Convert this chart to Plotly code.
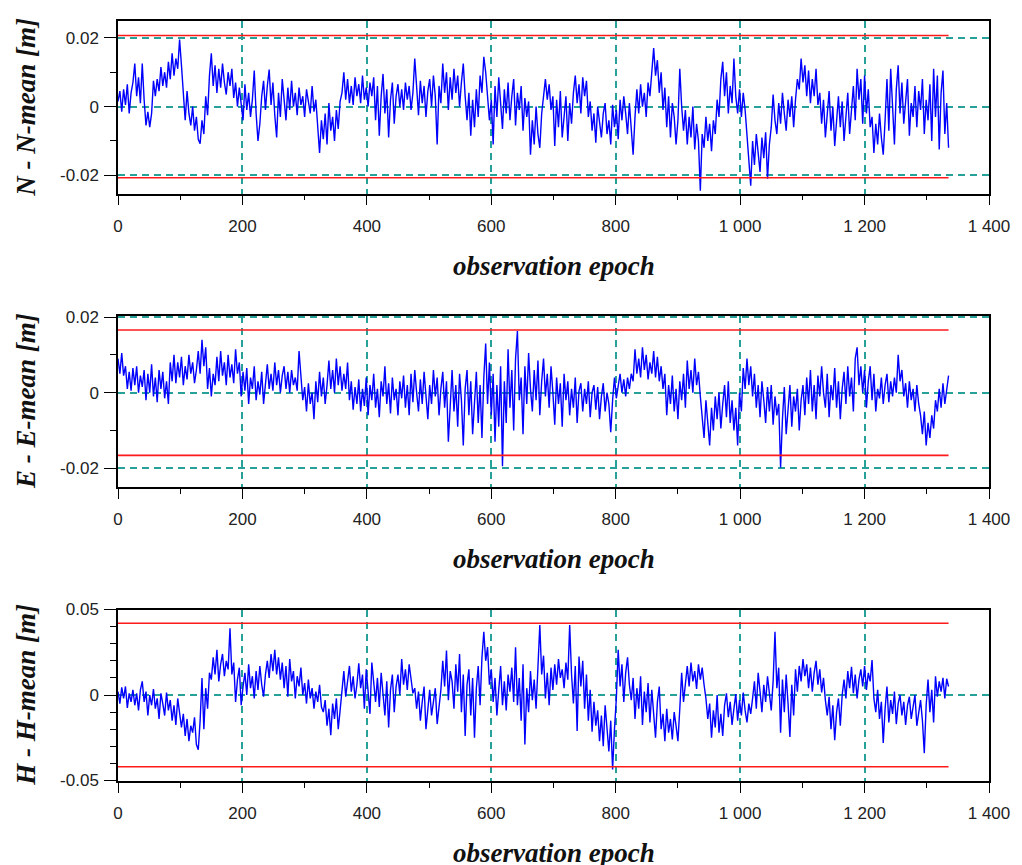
import numpy as np
import plotly.graph_objects as go

# observation epochs (every 3rd epoch of the session)
epoch = np.arange(0, 1336, 3)

# coordinate residuals w.r.t. the session mean, in millimetres
north_mm = [
    1.5, 4.5, -1.5, 5.0, 0.5, 6.5, -2.0, 4.0, 7.0, 12.5,
    3.0, 8.5, 1.0, 12.5, 2.0, -5.5, -1.5, -6.0, -2.0, 7.5,
    3.0, 8.0, 4.5, 11.5, 6.0, 10.0, 5.5, 13.0, 8.0, 15.5,
    9.0, 14.0, 11.0, 19.5, 12.0, 2.0, -4.0, 4.5, -2.0, -5.5,
    0.0, -7.0, -3.0, -9.5, -10.8, -4.0, -8.0, 3.0, -2.5, 9.0,
    15.5, 6.0, 12.0, 4.0, 11.0, 5.5, 12.5, 7.0, 3.5, 10.0,
    6.0, 11.0, 2.5, 7.0, 0.0, 5.5, 1.0, -4.0, 6.5, -1.0,
    4.0, -3.0, 2.0, 10.5, -2.0, -10.0, -5.0, 3.0, 7.5, -1.0,
    6.0, 10.8, 0.5, 7.0, -2.5, -9.0, 4.0, -3.0, 8.0, 1.0,
    -4.0, 5.5, -1.0, 7.5, 0.0, 4.0, -2.5, 5.5, 0.5, 3.0,
    -3.0, 5.0, 1.0, -2.0, 6.0, -1.5, 2.0, -6.0, -13.5, -4.0,
    -9.5, -2.0, -11.0, 1.0, -7.0, -3.0, -10.0, -1.0, -6.5, 1.5,
    4.0, 10.0, 2.0, 8.0, 1.0, 6.0, 0.5, 8.5, 3.0, 6.5,
    1.0, 9.0, 2.0, 5.5, 0.0, 7.0, 3.0, 8.5, -4.0, 6.0,
    -8.5, 3.0, 9.5, -2.0, 5.0, -9.0, 2.0, 7.0, -5.0, 3.0,
    6.5, 0.0, 5.0, -1.0, 7.0, 2.0, 6.0, -1.0, 4.0, 14.0,
    5.0, -2.5, 7.5, 1.0, 6.0, -3.0, 4.5, 8.0, 0.0, 9.0,
    3.0, -11.0, 6.0, 1.0, 12.5, 4.0, 10.0, -1.0, 8.5, 2.0,
    11.0, 4.0, 9.0, 0.0, 7.0, 12.5, 3.0, -4.0, 4.0, -8.5,
    2.0, -6.0, 5.0, -3.0, 9.0, 4.0, 14.5, 10.0, 3.0, -4.0,
    2.0, -11.0, 6.0, -3.0, 8.5, 0.5, -6.5, 5.0, -2.0, 7.0,
    -4.0, 3.0, 8.0, -5.5, 4.0, -1.0, 6.0, -7.0, 2.5, -3.0,
    1.5, -14.0, -4.0, -11.0, 0.0, -8.0, -12.0, -2.0, 4.0, 8.0,
    2.0, 6.5, -1.0, 3.0, -11.5, 2.0, -6.0, 4.5, -9.0, -2.0,
    3.0, -10.0, 1.0, -5.0, 4.0, 9.0, 1.0, 6.5, -2.0, 8.5,
    3.0, 7.5, -3.0, 1.5, -7.0, -2.0, -10.5, 0.0, -5.0, -9.0,
    -2.0, 1.0, -8.0, -4.0, -11.0, 0.5, -6.0, -1.0, -9.5, 2.0,
    -4.0, 3.0, -2.0, -8.0, 1.0, -6.0, -14.0, -3.0, 5.0, -2.0,
    6.5, 0.0, 4.0, -3.0, 7.0, 3.0, 11.0, 17.0, 9.0, 13.5,
    4.0, 10.0, -1.0, 5.5, -6.0, 3.0, -9.0, 1.0, -3.0, -11.0,
    -4.0, 11.0, 0.0, -7.0, -1.0, -11.0, -3.0, -9.0, 0.0, -12.5,
    -5.0, -10.0, -24.5, -8.0, -12.0, -3.0, -10.0, -5.0, -13.0, -4.0,
    -8.0, 2.0, -3.0, 8.0, 13.0, 3.0, 10.0, -2.0, 6.0, 1.0,
    14.0, 3.0, -2.0, 5.0, -3.0, 4.0, -1.0, -9.0, -15.0, -23.0,
    -10.0, -17.0, -8.0, -14.0, -19.0, -9.0, -15.0, -7.5, -21.0, -11.0,
    -6.0, 3.5, -4.0, -8.0, 1.0, -5.0, 4.0, -2.0, -7.0, 2.0,
    -3.0, 3.0, -6.0, 2.0, 8.0, 5.0, 14.0, 7.0, 12.0, 3.0,
    10.5, 1.0, 8.0, 3.0, 11.0, 0.5, 4.0, -5.0, 2.0, -9.0,
    -2.0, 4.5, -7.0, 0.0, -11.5, -3.0, 3.0, -6.0, 1.5, -10.0,
    -2.0, 4.0, -8.0, -1.0, 6.0, -4.0, 11.0, 2.0, 8.0, -5.0,
    9.0, -2.0, 5.0, -6.0, -3.0, -13.5, -5.0, -11.0, -2.0, -9.0,
    -14.0, -4.0, 8.0, -7.0, 11.0, 0.0, -11.0, 5.0, 12.0, -2.0,
    7.0, -5.0, 3.0, 8.0, -8.5, 1.0, -3.0, 6.0, -6.0, 4.5,
    -1.0, 8.0, -8.0, 2.0, -4.0, 6.5, -10.0, 11.0, -3.0, 9.0,
    -12.5, 4.0, 10.5, -8.0, 1.0, -12.0,
]

east_mm = [
    9.0, 5.0, 10.5, 4.5, 7.0, 1.0, 5.5, 0.5, 6.5, 2.0,
    7.0, 0.0, 4.5, 1.5, 6.0, -2.0, 5.0, 0.0, 7.5, -1.0,
    4.0, -2.5, 6.0, 1.0, 5.5, -1.5, 3.0, -3.0, 8.0, 3.0,
    10.0, 2.5, 8.0, 4.0, 9.5, 2.0, 7.0, 3.5, 10.0, 5.0,
    8.0, 2.5, 6.0, 11.0, 5.0, 14.0, 7.0, 12.0, 1.0, 6.5,
    -1.0, 5.0, 2.0, 9.5, 3.0, 11.0, 4.5, 8.0, 2.0, 10.0,
    4.0, 7.5, 2.5, 11.5, 5.0, 8.0, -1.0, 5.5, 0.5, 6.5,
    -3.0, 4.0, 1.0, 7.0, -2.0, 3.0, -0.5, 5.5, -3.0, 2.0,
    7.5, 1.0, 5.0, 0.5, 8.0, 2.0, 6.0, 0.0, 4.5, 7.0,
    1.0, 5.5, 0.0, 6.0, 2.0, 4.0, 0.5, 11.0, 3.0, -2.0,
    1.5, -5.0, 2.5, -3.0, 0.0, -7.0, 3.0, -2.5, 5.5, -1.0,
    4.0, -3.0, 2.0, 8.5, 1.0, 6.0, 0.0, 9.0, 2.0, 7.0,
    0.5, 5.0, 1.0, 8.0, -2.0, 3.0, -4.5, 1.5, -3.0, 3.5,
    -5.0, 1.0, -3.5, 4.0, -6.0, 2.0, -2.0, 5.0, -4.0, 1.0,
    -6.5, 3.0, -1.0, 7.0, -3.0, 2.5, -5.5, 4.0, -2.0, 1.0,
    -6.0, 3.0, -1.5, 4.5, -4.0, 2.0, -6.0, 5.0, -2.5, 6.0,
    0.0, -5.0, 3.5, -3.0, 5.5, -1.0, -7.0, 2.0, -3.0, 6.0,
    -1.0, 4.0, -6.0, 1.0, 5.5, -4.0, 3.0, -13.0, -2.0, 6.0,
    -5.0, 2.0, -9.0, 5.0, -2.0, -14.0, 1.0, 6.0, -6.0, 3.0,
    -11.0, -1.0, 5.5, -8.0, 2.0, -12.0, 4.0, 13.0, -3.0, 8.0,
    -6.0, 5.0, -13.0, 2.0, -9.0, 7.0, -19.5, 3.0, -8.0, 11.5,
    -4.0, 6.0, -10.0, 9.0, 16.3, -2.0, 4.0, -11.0, 7.0, -3.0,
    10.5, 1.0, -5.0, 6.0, -2.0, 8.5, -6.0, 3.0, 9.0, -1.0,
    5.0, -4.0, 7.0, 0.0, -8.5, 4.0, -3.0, 2.5, -9.0, 5.0,
    -2.0, 3.0, -6.0, 1.0, -4.0, 4.0, -8.0, 0.5, 2.5, -5.0,
    1.0, -3.0, 3.0, -6.5, 0.0, 2.0, -4.5, 1.5, -7.0, -1.0,
    2.5, -5.0, 0.0, -3.0, -10.5, -2.0, 4.0, -1.5, 2.5, 5.0,
    0.0, 3.5, -1.0, 4.0, 1.0, 5.0, 3.0, 11.5, 5.0, 9.0,
    4.0, 12.0, 6.0, 10.0, 3.5, 8.0, 5.0, 11.0, 4.0, 9.5,
    3.0, 7.0, 1.0, 5.0, -6.0, 2.0, -3.0, 4.5, -5.0, 1.0,
    -7.0, 3.0, -2.0, 5.0, -4.0, 8.5, 1.0, 6.0, 0.0, 9.0,
    2.0, 5.5, -1.0, -6.0, -12.0, -2.0, -9.0, -14.0, -4.0, -10.0,
    -1.0, -7.0, 0.0, -9.5, -3.0, 2.0, -6.5, 3.0, -8.0, -2.0,
    -10.0, -4.0, -14.0, 0.0, -5.0, 6.5, 1.0, 9.0, 2.0, 7.0,
    -1.0, 5.0, -4.0, 2.0, -6.5, 3.0, -2.0, -8.0, 1.5, -5.0,
    2.0, -8.5, -1.0, -6.0, -3.0, -19.8, -7.0, 1.5, -11.0, -3.0,
    2.0, -9.0, -1.0, -5.0, 1.0, -10.0, -2.0, 2.0, -6.0, 4.0,
    -3.0, 6.0, -5.0, 2.0, -7.0, 4.5, -1.0, 7.0, 0.0, -4.0,
    5.0, -6.5, 2.0, -2.0, 6.5, -4.0, 3.0, -7.0, 1.0, 5.5,
    -3.0, 7.0, -1.0, 4.0, -5.0, 9.0, 12.0, 2.0, 7.0, 0.0,
    6.0, -4.0, 3.0, 7.0, -2.0, 5.0, -5.0, 1.0, -1.5, 4.0,
    -3.0, 2.0, 5.0, -2.5, 3.0, -1.0, 4.0, 0.0, 10.0, 3.0,
    6.0, -1.0, 2.5, -4.0, 3.0, -2.0, 1.0, -5.0, 2.0, -3.0,
    -6.0, -11.0, -5.0, -14.0, -8.0, -12.0, -6.0, -9.5, -2.0, -5.0,
    1.0, -4.0, 2.5, -3.0, 1.0, 4.5,
]

height_mm = [
    2.0, -5.0, 4.5, -2.0, 5.0, -7.5, 1.0, -4.0, 3.0, -6.0,
    1.0, -9.0, 3.0, 8.0, -4.0, 2.0, -12.0, 0.0, -6.0, 3.5,
    -8.0, -2.0, -14.0, 1.0, -5.0, -12.0, 1.5, -9.0, -3.0, -15.0,
    -6.0, -17.5, -2.0, -12.0, -19.0, -11.0, -24.0, -14.0, -27.0, -18.0,
    -22.0, -13.0, -29.0, -32.0, -15.0, 10.0, -20.0, 4.0, -8.0, 13.0,
    9.0, 22.0, 12.0, 26.5, 8.0, 18.0, 24.0, 11.0, 20.0, 15.0,
    39.0, 12.0, 19.0, -4.0, 9.0, 16.0, -6.0, 5.0, 13.0, 0.0,
    18.0, 4.0, 11.0, -2.0, 14.0, 3.0, 17.0, 6.0, -1.0, 12.0,
    20.0, 10.0, 24.0, 14.0, 26.5, 12.0, 22.0, 9.0, 19.0, 4.0,
    17.0, -1.0, 21.0, 8.0, 14.0, -2.0, 11.0, 5.0, 16.0, 0.0,
    7.0, -5.0, 9.0, -2.0, 4.0, -8.0, 2.0, -4.0, 6.0, -7.0,
    -10.0, -3.0, -18.0, -8.0, -23.5, -5.0, -14.0, -2.0, -20.0, -9.0,
    3.0, 14.0, -1.0, 8.0, 17.0, 2.0, 11.0, -2.0, 6.0, 18.5,
    4.0, 12.0, -8.0, 15.0, 2.0, -11.0, 19.0, 5.0, -4.0, 10.0,
    -7.0, 13.0, 0.0, -12.0, 8.0, -19.0, 3.0, 12.0, -10.0, 5.0,
    12.0, 0.0, 21.0, 6.0, 15.0, 3.0, 18.0, 9.0, 1.0, 4.0,
    -8.0, 2.0, -15.0, -4.0, 5.0, -20.0, -6.0, 3.0, -12.0, -2.0,
    4.0, -17.0, -5.0, 3.0, 20.0, 5.0, 26.0, -3.0, 14.0, 8.0,
    -8.0, 18.0, 2.0, 24.0, -10.0, 12.0, -24.0, 6.0, 15.0, -12.0,
    10.0, -25.0, 4.0, 17.0, -6.0, 22.0, 37.0, 20.0, 28.0, 6.0,
    15.0, -4.0, 10.0, -12.0, 3.0, 17.0, -6.0, 8.0, -9.0, 12.0,
    2.0, 16.0, -4.0, 28.0, -6.0, 10.0, -15.0, 18.0, -29.0, 4.0,
    -10.0, 14.0, -3.0, 9.0, -8.0, 17.0, 41.0, 12.0, 23.0, -2.0,
    13.0, -6.0, 16.0, 3.0, 18.0, 6.0, 21.0, 10.0, 15.0, 4.0,
    19.0, 9.0, 41.0, 12.0, -5.0, 17.0, -21.0, 22.5, 5.0, 20.0,
    -8.0, 12.0, -15.0, 3.0, -21.5, -4.0, -18.0, -9.0, -27.0, -12.0,
    -30.0, -6.0, -22.0, -33.0, -15.0, -43.5, -20.0, -2.0, 26.5, 5.0,
    18.0, -4.0, 13.0, 22.0, 6.0, -3.0, 10.0, -14.0, 4.0, -8.0,
    11.0, -17.5, 2.0, -10.0, 7.0, -16.0, 3.0, -9.0, -25.0, -4.0,
    5.0, -20.0, -11.0, -27.0, -8.0, -22.0, -14.0, -26.0, -10.0, -18.0,
    -27.0, -8.0, 13.0, -4.0, 8.0, 17.0, 5.0, 19.0, 8.0, 14.0,
    3.5, 18.0, 9.0, 16.0, 6.0, -2.0, -14.0, -5.0, -25.0, -9.0,
    -19.0, 0.0, -22.0, -11.0, -24.0, -6.0, 1.0, -13.0, -4.0, -17.5,
    -8.0, 0.5, -15.0, -3.0, -12.0, 1.5, -9.0, -16.0, -5.0, -11.0,
    -2.0, 8.0, -8.0, 13.0, 2.0, -10.0, 6.0, -4.0, 11.0, 0.0,
    -9.0, 8.0, 37.0, 4.0, 16.0, -22.0, 9.0, -10.0, 12.0, -5.0,
    -24.5, 6.0, -12.0, 15.0, 2.0, 17.0, 8.0, 21.0, 11.0, 18.0,
    4.0, 16.0, 2.0, 13.0, 20.0, 6.0, 15.0, 1.5, 10.0, -3.0,
    -12.0, -1.0, -20.0, -6.0, -26.5, -10.0, -2.0, -18.0, 0.0, 9.0,
    -2.0, 14.0, 4.0, 16.5, 1.0, 12.0, -2.0, 9.0, 15.0, 5.0,
    17.0, 3.0, 13.0, 8.0, 20.5, -2.0, -10.0, 3.0, -14.0, -4.0,
    -28.0, -8.0, 5.0, -16.0, -3.0, -11.0, 2.0, -17.0, -5.0, 0.0,
    -12.0, -4.0, -17.5, -6.0, -1.0, -14.0, -7.0, 0.0, -18.0, -9.0,
    -3.0, -15.0, -34.0, -6.0, 9.0, -10.0, 3.0, -16.0, 11.0, -1.0,
    8.0, 2.0, 10.0, -2.0, 9.5, 5.0,
]

# control limits (+/-) for each component, millimetres
limit_mm = [20.7, 16.6, 42.0]

y_titles = ["N - N-mean [m]", "E - E-mean [m]", "H - H-mean [m]"]
x_title = "observation epoch"

x_tickvals = [0, 200, 400, 600, 800, 1000, 1200, 1400]
x_ticktext = ["0", "200", "400", "600", "800", "1 000", "1 200", "1 400"]
x_minor = [100, 300, 500, 700, 900, 1100, 1300]

y_tickvals = [[-0.02, 0, 0.02], [-0.02, 0, 0.02], [-0.05, 0, 0.05]]
y_ticktext = [["-0.02", "0", "0.02"], ["-0.02", "0", "0.02"], ["-0.05", "0", "0.05"]]
y_minor = [[-0.01, 0.01], [-0.01, 0.01],
           [-0.04, -0.03, -0.02, -0.01, 0.01, 0.02, 0.03, 0.04]]
y_ranges = [[-0.0253, 0.0249], [-0.025, 0.0204], [-0.0503, 0.05]]
y_domains = [[0.773, 1.0], [0.3867, 0.6124], [0.0, 0.2256]]

series = [north_mm, east_mm, height_mm]
for s in series:
    assert len(s) == len(epoch)

BLUE = "#0000ff"
RED = "#ff1a1a"
TEAL = "#27a09a"
tick_font = dict(family="Liberation Sans, Arial, sans-serif", size=17, color="#222222")
title_font = dict(family="Liberation Serif, Times New Roman, serif", size=27,
                  color="#111111", weight="bold", style="italic")

fig = go.Figure()
layout = dict(
    width=1022, height=865,
    margin=dict(l=118, r=27, t=20, b=84),
    paper_bgcolor="white", plot_bgcolor="white",
    showlegend=False,
    annotations=[],
)

for i in range(3):
    n = "" if i == 0 else str(i + 1)
    xa, ya = "x" + n, "y" + n
    values = np.asarray(series[i]) / 1000.0
    lim = limit_mm[i] / 1000.0

    fig.add_trace(go.Scatter(x=epoch, y=values, mode="lines", xaxis=xa, yaxis=ya,
                             line=dict(color=BLUE, width=1.4), hoverinfo="skip"))
    for sgn in (1, -1):
        fig.add_trace(go.Scatter(x=[epoch[0], epoch[-1]], y=[sgn * lim, sgn * lim],
                                 mode="lines", xaxis=xa, yaxis=ya,
                                 line=dict(color=RED, width=1.6), hoverinfo="skip"))

    layout["xaxis" + n] = dict(
        domain=[0, 1], anchor=ya, range=[0, 1400],
        tickmode="array", tickvals=x_tickvals, ticktext=x_ticktext,
        ticks="outside", ticklen=10, tickwidth=1.2, tickcolor="black",
        ticklabelstandoff=6,
        minor=dict(tickmode="array", tickvals=x_minor, ticks="outside",
                   ticklen=5, tickwidth=1.2, tickcolor="black", showgrid=False),
        showline=True, linecolor="black", linewidth=1.5, mirror=True,
        showgrid=True, gridcolor=TEAL, gridwidth=1.5, griddash="7px,5px",
        zeroline=False, tickfont=tick_font,
    )
    layout["yaxis" + n] = dict(
        domain=y_domains[i], anchor=xa, range=y_ranges[i],
        tickmode="array", tickvals=y_tickvals[i], ticktext=y_ticktext[i],
        ticks="outside", ticklen=12, tickwidth=1.2, tickcolor="black",
        ticklabelstandoff=2,
        minor=dict(tickmode="array", tickvals=y_minor[i], ticks="outside",
                   ticklen=6, tickwidth=1.2, tickcolor="black", showgrid=False),
        showline=True, linecolor="black", linewidth=1.5, mirror=True,
        showgrid=True, gridcolor=TEAL, gridwidth=1.5, griddash="7px,5px",
        zeroline=False, tickfont=tick_font,
    )
    layout["annotations"].append(dict(
        text=x_title, xref=xa + " domain", yref=ya + " domain",
        x=0.5, y=-0.42, xanchor="center", yanchor="middle",
        showarrow=False, font=title_font))
    layout["annotations"].append(dict(
        text=y_titles[i], xref=xa + " domain", yref=ya + " domain",
        x=-0.105, y=0.5, xanchor="center", yanchor="middle", textangle=-90,
        showarrow=False, font=title_font))

fig.update_layout(**layout)
fig.write_html("out.html")
